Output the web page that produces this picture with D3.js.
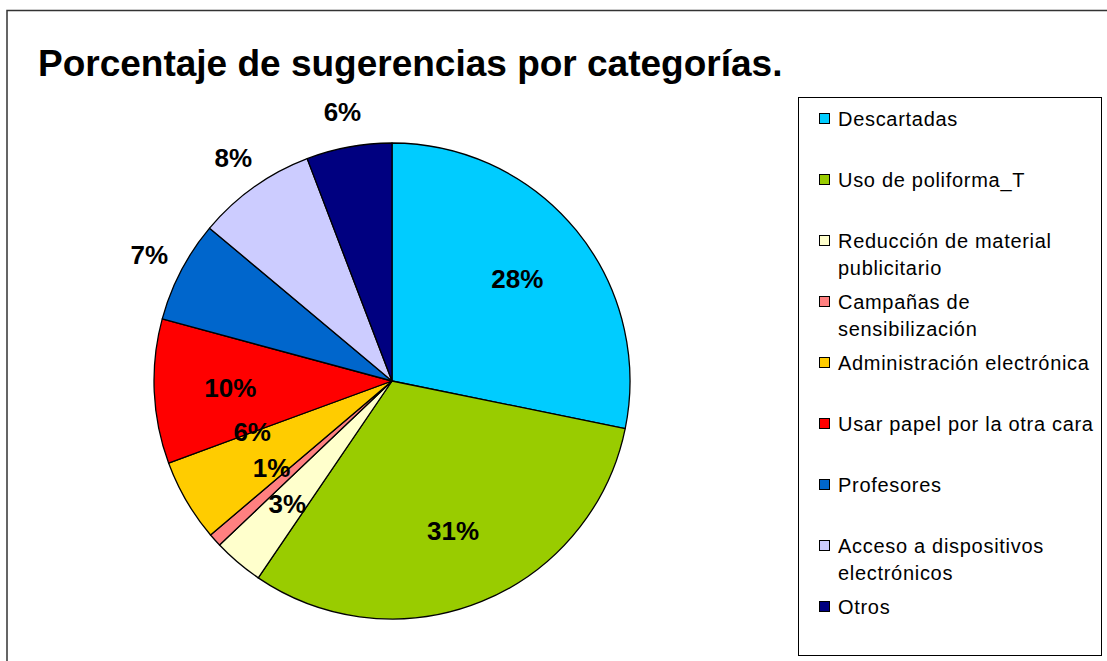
<!DOCTYPE html>
<html>
<head>
<meta charset="utf-8">
<script src="https://cdn.jsdelivr.net/npm/d3@7"></script>
<style>
    body { margin: 0; background: #fff; }
    text { font-family: "Liberation Sans", Arial, sans-serif; }
</style>
</head>
<body>
<script>
const w = 1107;
const h = 661;

const title = "Porcentaje de sugerencias por categorías.";

// categories in drawing order (clockwise from 12 o'clock)
const categories = [
    "Descartadas",
    "Uso de poliforma_T",
    "Reducción de material publicitario",
    "Campañas de sensibilización",
    "Administración electrónica",
    "Usar papel por la otra cara",
    "Profesores",
    "Acceso a dispositivos electrónicos",
    "Otros",
];
// legend text, split in lines as in the picture
const legendLines = [
    ["Descartadas"],
    ["Uso de poliforma_T"],
    ["Reducción de material", "publicitario"],
    ["Campañas de", "sensibilización"],
    ["Administración electrónica"],
    ["Usar papel por la otra cara"],
    ["Profesores"],
    ["Acceso a dispositivos", "electrónicos"],
    ["Otros"],
];
// share of suggestions (%)
const values = [28.2, 31.3, 3.4, 0.9, 5.6, 9.8, 6.9, 8.1, 5.8];
const colors = ["#00ccff", "#99cc00", "#ffffcc", "#ff8080", "#ffcc00",
                "#ff0000", "#0066cc", "#ccccff", "#000080"];

const data = categories.map((c, i) => ({ name: c, value: values[i], color: colors[i], lines: legendLines[i] }));

const svg = d3.select("body")
    .append("svg")
    .attr("width", w)
    .attr("height", h)
    ;

// outer frame (runs off the right and bottom edges)
svg.append("rect")
    .attr("x", 7)
    .attr("y", 10.5)
    .attr("width", w)
    .attr("height", h)
    .attr("fill", "none")
    .attr("stroke", "#333")
    .attr("stroke-width", 1.5)
    ;

svg.append("text")
    .attr("x", 38)
    .attr("y", 76)
    .attr("font-size", 37)
    .attr("font-weight", "bold")
    .text(title)
    ;

// pie
const cx = 392, cy = 381, r = 238;
const pie = d3.pie().sort(null).value(d => d.value);
const arcs = pie(data);
const arc = d3.arc().innerRadius(0).outerRadius(r);
const inLabel = d3.arc().innerRadius(r * 0.68).outerRadius(r * 0.68);
const outLabel = d3.arc().innerRadius(r * 1.15).outerRadius(r * 1.15);
const outside = new Set(["Profesores", "Acceso a dispositivos electrónicos", "Otros"]);

const g = svg.append("g").attr("transform", `translate(${cx},${cy})`);

g.selectAll("path")
    .data(arcs)
    .enter()
    .append("path")
    .attr("d", arc)
    .attr("fill", d => d.data.color)
    .attr("stroke", "#000")
    .attr("stroke-width", 1.3)
    .attr("stroke-linejoin", "round")
    ;

// label positions: centroid, then push crowded inner labels upward (like best fit)
let labels = arcs.map(d => {
    let p = (outside.has(d.data.name) ? outLabel : inLabel).centroid(d);
    return { d: d, x: p[0], y: p[1], inner: !outside.has(d.data.name) };
});
let placed = [];
labels.filter(l => l.inner)
    .sort((a, b) => b.y - a.y)
    .forEach(l => {
        placed.forEach(p => {
            if (Math.abs(p.x - l.x) < 60 && p.y - l.y < 36) l.y = p.y - 36;
        });
        placed.push(l);
    });

g.selectAll("text.pct")
    .data(labels)
    .enter()
    .append("text")
    .attr("class", "pct")
    .attr("x", l => l.x)
    .attr("y", l => l.y)
    .attr("text-anchor", "middle")
    .attr("dy", "0.35em")
    .attr("font-size", 26)
    .attr("font-weight", "bold")
    .text(l => Math.round(l.d.data.value) + "%")
    ;

// legend
const lx = 798, ly = 97, lw = 303, lh = 558;
svg.append("rect")
    .attr("x", lx + 0.5)
    .attr("y", ly + 0.5)
    .attr("width", lw)
    .attr("height", lh)
    .attr("fill", "#fff")
    .attr("stroke", "#000")
    ;

const yLegend = d3.scalePoint()
    .domain(categories)
    .range([ly + 22, ly + 510])
    ;

const item = svg.selectAll("g.item")
    .data(data)
    .enter()
    .append("g")
    .attr("class", "item")
    .attr("transform", d => `translate(${lx + 21},${yLegend(d.name)})`)
    ;

item.append("rect")
    .attr("x", 0.5)
    .attr("y", -5.5)
    .attr("width", 10)
    .attr("height", 10)
    .attr("fill", d => d.color)
    .attr("stroke", "#000")
    .attr("stroke-width", 1)
    ;

item.selectAll("text")
    .data(d => d.lines)
    .enter()
    .append("text")
    .attr("x", 19)
    .attr("y", (d, i) => i * 26.5)
    .attr("dy", "0.35em")
    .attr("font-size", 20)
    .attr("letter-spacing", "0.7px")
    .text(d => d)
    ;
</script>
</body>
</html>
